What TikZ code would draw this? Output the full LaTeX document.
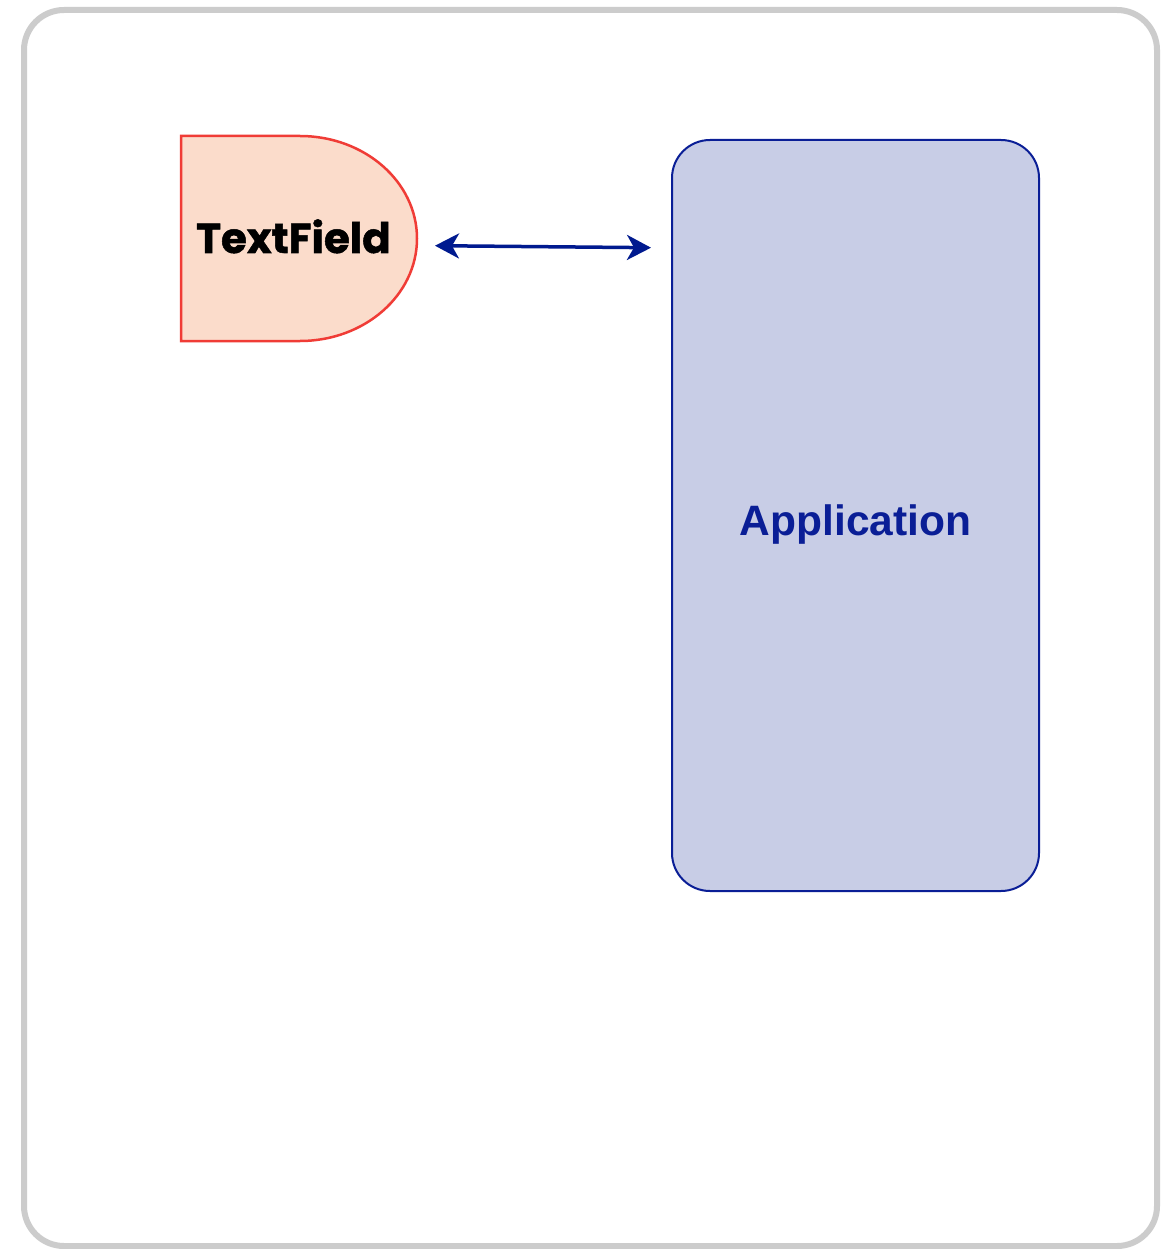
\documentclass[tikz,border=0pt]{standalone}
\usepackage{fontspec}
\usetikzlibrary{arrows.meta}
\newfontfamily\tffont{Poppins}[BoldFeatures={FakeBold=1.2}]
\newfontfamily\appfont{Liberation Sans}
\definecolor{framegray}{HTML}{CCCCCC}
\definecolor{tffill}{HTML}{FBDCCB}
\definecolor{tfdraw}{HTML}{F03C36}
\definecolor{appfill}{HTML}{C8CDE6}
\definecolor{appdraw}{HTML}{0A1E96}
\definecolor{arrowblue}{HTML}{001A8F}
\definecolor{apptext}{HTML}{0A1E96}
\tikzset{
  frame/.style={draw=framegray, line width=6pt, rounded corners=40pt},
  tfshape/.style={draw=tfdraw, fill=tffill, line width=2.5pt},
  appbox/.style={draw=appdraw, fill=appfill, line width=2pt, rounded corners=38pt},
  link/.style={draw=arrowblue, line width=3.5pt,
    {Stealth[length=24pt,width=25pt,inset=7pt]}-{Stealth[length=24pt,width=25pt,inset=7pt]}},
  tflabel/.style={font=\tffont\bfseries\fontsize{42}{42}\selectfont, text=black, inner sep=0pt, anchor=base},
  applabel/.style={font=\appfont\bfseries\fontsize{42.5}{42.5}\selectfont, inner sep=0pt, anchor=base}
}
\begin{document}
\begin{tikzpicture}[x=1pt,y=-1pt]
\useasboundingbox (0,0) rectangle (1169,1249);
\fill[white] (0,0) rectangle (1169,1249);
\draw[frame] (24,10) rectangle (1157,1246);
% TextField shape
\draw[tfshape] (181,136) -- (300,136) arc[start angle=-90, end angle=90, x radius=117, y radius=102.5] -- (181,341) -- cycle;
\node[tflabel] (tf) at (293.5,253) {TextField};
% Application box
\node[appbox, minimum width=367pt, minimum height=751pt, inner sep=0pt] (app) at (855.5,515.5) {};
\node[applabel, text=apptext] (applbl) at (855.5,535) {Application};
% connector
\coordinate (a1) at (435,245.7);
\coordinate (a2) at (651,247.7);
\draw[link] (a1) -- (a2);
\end{tikzpicture}
\end{document}
